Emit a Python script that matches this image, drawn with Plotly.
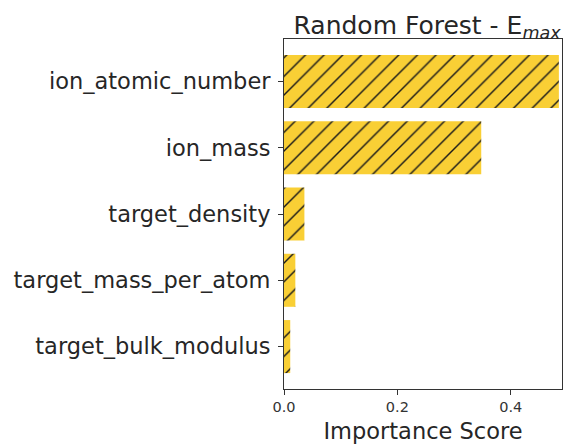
import plotly.graph_objects as go

features = ["target_bulk_modulus", "target_mass_per_atom", "target_density", "ion_mass", "ion_atomic_number"]
importance = [0.011, 0.020, 0.036, 0.348, 0.485]
x_ticks = [0.0, 0.2, 0.4]
x_tick_labels = ["0.0", "0.2", "0.4"]

W, H = 573, 444
L, R, T, B = 284, 11, 39, 55
TXT = "#262626"

fig = go.Figure(go.Bar(
    x=importance, y=list(range(len(features))), orientation="h", width=0.8,
    marker=dict(color="#F9CF35", line=dict(width=0),
                pattern=dict(shape="/", fgcolor="#1a1a1a", fgopacity=1, bgcolor="#F9CF35",
                             size=13.2, solidity=0.11)),
))

fig.update_layout(
    width=W, height=H, margin=dict(l=L, r=R, t=T, b=B, autoexpand=False),
    paper_bgcolor="white", plot_bgcolor="white",
    font=dict(family="DejaVu Sans", color=TXT),
    showlegend=False,
    title=dict(text="Random Forest - E<sub><i>max</i></sub>", x=427 / W, xanchor="center",
               y=1 - 25 / H, yanchor="middle", font=dict(size=25, color=TXT), automargin=False),
    xaxis=dict(range=[0, 0.4905], tickvals=x_ticks, ticktext=x_tick_labels, automargin=False,
               tickfont=dict(size=14.5, color="#333333"), ticks="outside", ticklen=5, tickcolor="#333333",
               showgrid=False, zeroline=False, showline=True, linecolor="#333333", linewidth=1, mirror=True,
               title=dict(text="Importance Score", font=dict(size=22.5, color=TXT), standoff=8)),
    yaxis=dict(range=[-0.64, 4.64], tickvals=list(range(len(features))), ticktext=features, automargin=False,
               tickfont=dict(size=22.5, color=TXT), ticks="outside", ticklen=5, tickcolor="#333333",
               ticklabelstandoff=3,
               showgrid=False, zeroline=False, showline=True, linecolor="#333333", linewidth=1, mirror=True),
)

fig.write_html("out.html")
